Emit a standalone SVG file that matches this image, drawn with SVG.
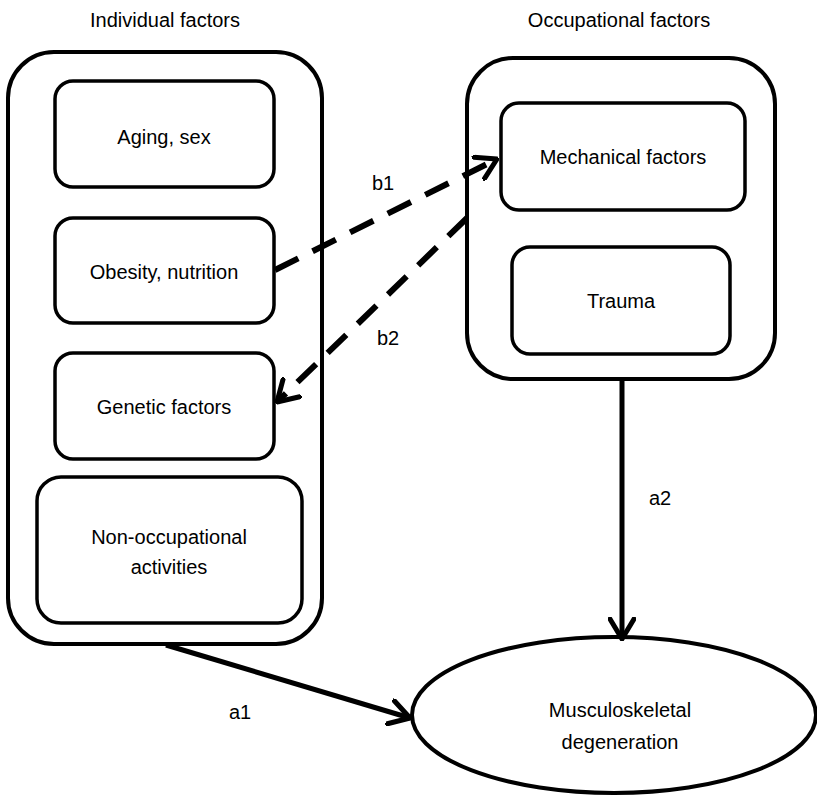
<svg xmlns="http://www.w3.org/2000/svg" width="817" height="796" viewBox="0 0 817 796">
<defs>
<style>
text{font-family:"Liberation Sans",Arial,sans-serif;font-size:20px;fill:#000;text-anchor:middle}
.outer{fill:#fff;stroke:#000;stroke-width:4}
.inner{fill:#fff;stroke:#000;stroke-width:3.5}
.solid{fill:none;stroke:#000;stroke-width:5}
.dash{fill:none;stroke:#000;stroke-width:6;stroke-dasharray:26 16}
</style>
<marker id="vh" viewBox="0 0 24 28" refX="22" refY="14" markerWidth="24" markerHeight="28" markerUnits="userSpaceOnUse" orient="auto">
<path d="M2,2 L22,14 L2,26" fill="none" stroke="#000" stroke-width="5" stroke-linecap="round" stroke-linejoin="round"/>
</marker>
</defs>
<rect width="817" height="796" fill="#fff"/>
<text x="165" y="27">Individual factors</text>
<text x="619" y="27">Occupational factors</text>
<g id="individual">
<rect class="outer" x="8" y="52" width="314" height="592" rx="46"/>
</g>
<g id="aging"><rect class="inner" x="55" y="81" width="219" height="106" rx="18"/><text x="164" y="144">Aging, sex</text></g>
<g id="obesity"><rect class="inner" x="55" y="218" width="219" height="105" rx="18"/><text x="164" y="279">Obesity, nutrition</text></g>
<g id="genetic"><rect class="inner" x="55" y="353" width="219" height="106" rx="18"/><text x="164" y="414">Genetic factors</text></g>
<g id="nonocc"><rect class="inner" x="37" y="477" width="265" height="146" rx="24"/><text x="169" y="544">Non-occupational</text><text x="169" y="574">activities</text></g>
<g id="occupational">
<rect class="outer" x="467" y="58" width="308" height="321" rx="46"/>
</g>
<g id="mechanical"><rect class="inner" x="501" y="103" width="244" height="107" rx="18"/><text x="623" y="164">Mechanical factors</text></g>
<g id="trauma"><rect class="inner" x="512" y="247" width="218" height="107" rx="18"/><text x="621" y="308">Trauma</text></g>
<g id="msd"><ellipse cx="614" cy="715" rx="202" ry="78" fill="#fff" stroke="#000" stroke-width="4"/><text x="620" y="717">Musculoskeletal</text><text x="620" y="749">degeneration</text></g>
<g id="connectors">
<line class="dash" x1="275" y1="270" x2="497" y2="159" marker-end="url(#vh)"/>
<line class="dash" x1="467" y1="218" x2="277" y2="402" marker-end="url(#vh)"/>
<line class="solid" x1="166" y1="645" x2="410" y2="718" marker-end="url(#vh)"/>
<line class="solid" x1="622" y1="380" x2="622" y2="639" marker-end="url(#vh)"/>
<text x="383" y="190">b1</text>
<text x="388" y="345">b2</text>
<text x="240" y="719">a1</text>
<text x="660" y="505">a2</text>
</g>
</svg>
